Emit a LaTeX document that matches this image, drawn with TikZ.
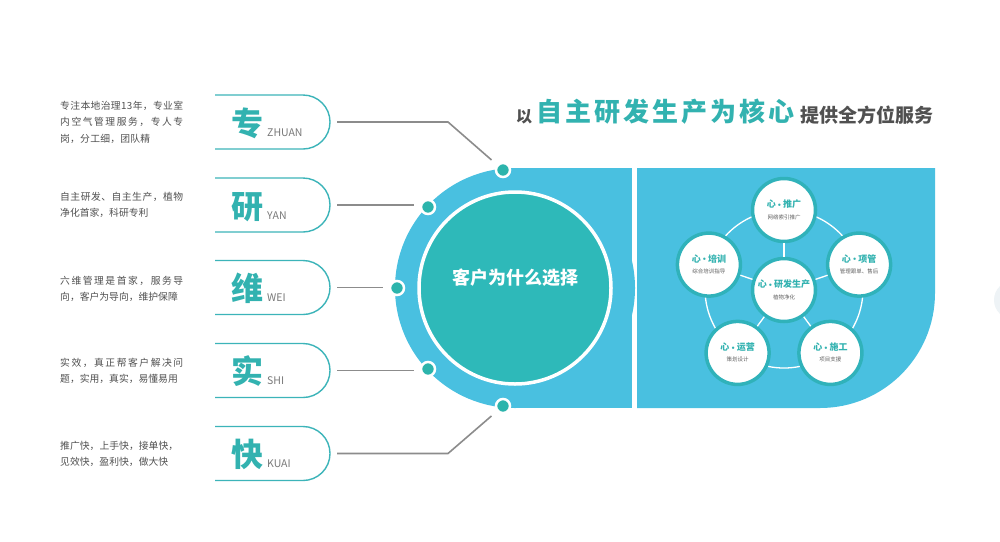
\documentclass[tikz,border=0pt]{standalone}
\usepackage{fontspec}
\setmainfont{Noto Sans CJK SC}
\definecolor{bluep}{RGB}{73,192,224}
\definecolor{tealc}{RGB}{46,185,185}
\definecolor{dotc}{RGB}{44,180,172}
\definecolor{tealtxt}{RGB}{50,178,176}
\definecolor{pillc}{RGB}{60,180,185}
\definecolor{linec}{RGB}{140,140,140}
\definecolor{graytxt}{RGB}{80,80,80}
\definecolor{graypy}{RGB}{120,120,120}
\definecolor{graysub}{RGB}{100,100,100}
\definecolor{ringc}{RGB}{48,178,186}
\definecolor{faint}{RGB}{238,243,246}
\ExplSyntaxOn
\NewDocumentCommand\spreadchars{mm}{\makebox[#1][s]{\tl_map_inline:nn {#2}{##1\hfil}\unskip}}
\ExplSyntaxOff
\newcommand{\middotsep}{\hspace{1.8pt}\raisebox{1.3pt}{$\scriptscriptstyle\bullet$}\hspace{1.8pt}}
\begin{document}
\begin{tikzpicture}[x=1pt,y=-1pt,
  lefttxt/.style={anchor=base west, inner sep=0pt, font=\fontsize{9.8}{12}\selectfont, text=graytxt},
  bigchar/.style={anchor=base west, inner sep=0pt, font=\fontsize{32}{34}\selectfont\bfseries, text=tealtxt},
  pinyin/.style={anchor=base west, inner sep=0pt, font=\fontsize{10.5}{12}\selectfont, text=graypy},
  pill/.style={draw=pillc, line width=1.4pt},
  conn/.style={draw=linec, line width=1.6pt},
  dot/.style={circle, inner sep=0pt, minimum size=14pt, fill=dotc, draw=white, line width=2.5pt},
  smallc/.style={circle, inner sep=0pt, minimum size=63pt, fill=white, draw=ringc, line width=3.5pt},
  ctitle/.style={anchor=base, inner sep=0pt, font=\fontsize{9}{11}\selectfont\bfseries, text=tealtxt},
  csub/.style={anchor=base, inner sep=0pt, font=\fontsize{5.5}{7}\selectfont, text=graysub},
  spoke/.style={draw=white, line width=1.3pt},
  titlegray/.style={anchor=base west, inner sep=0pt, text=graytxt}
]
\useasboundingbox (0,0) rectangle (1000,541);
\fill[white] (0,0) rectangle (1000,541);
\fill[faint] (1013,300) circle[radius=19];

% title
\node[titlegray, font=\fontsize{16}{18}\selectfont\bfseries] (t1) at (516,122) {以};
\node[anchor=base west, inner sep=0pt, font=\fontsize{26}{30}\selectfont\bfseries, text=tealtxt] (t2) at (536,121) {\spreadchars{258pt}{自主研发生产为核心}};
\node[titlegray, font=\fontsize{19}{21}\selectfont\bfseries] (t3) at (800,122.7) {\spreadchars{133pt}{提供全方位服务}};

% left blue shape
\fill[bluep] (515,288) circle[radius=120];
\fill[bluep] (515,168) rectangle (632,408);
% right blue panel
\fill[bluep] (637,168) -- (935,168) -- (935,293) arc[start angle=0,end angle=90,radius=115] -- (637,408) -- cycle;

% core circle
\node[circle, inner sep=0pt, minimum size=192pt, fill=tealc, draw=white, line width=3.5pt] (core) at (515,288) {};
\node[anchor=base, inner sep=0pt, font=\fontsize{18}{20}\selectfont\bfseries, text=white] (coret) at (515,284) {客户为什么选择};

% dots
\node[dot] (d1) at (503,170) {};
\node[dot] (d2) at (428,207) {};
\node[dot] (d3) at (397,288) {};
\node[dot] (d4) at (428,369) {};
\node[dot] (d5) at (503,406) {};

% pills
\foreach \i/\c/\ch/\py in {1/122/专/ZHUAN, 2/205/研/YAN, 3/287.5/维/WEI, 4/370.5/实/SHI, 5/453.5/快/KUAI}{
  \draw[pill] (215,\c-27) -- (303,\c-27) arc[start angle=-90,end angle=90,radius=27] -- (215,\c+27);
  \coordinate (pill\i) at (330,\c);
  \node[bigchar] (big\i) at (231,\c+13) {\ch};
  \node[pinyin] (py\i) at (267,\c+14) {\py};
}

% connectors
\coordinate (b1) at (448,122);
\coordinate (b5) at (448,453.5);
\draw[conn, shorten <=7pt, shorten >=7pt] (pill1) -- (b1) -- (d1);
\draw[conn, shorten <=7pt, shorten >=6pt] (pill2) -- (pill2 -| d2.west);
\draw[conn, shorten <=7pt, shorten >=6pt] (pill3) -- (pill3 -| d3.west);
\draw[conn, shorten <=7pt, shorten >=6pt] (pill4) -- (pill4 -| d4.west);
\draw[conn, shorten <=7pt, shorten >=7pt] (pill5) -- (b5) -- (d5);

% left texts
\node[lefttxt] (l11) at (60,109.2) {\spreadchars{123pt}{专注本地治理13年，专业室}};
\node[lefttxt] (l12) at (60,125.7) {\spreadchars{123pt}{内空气管理服务，专人专}};
\node[lefttxt] (l13) at (60,142.2) {\spreadchars{90pt}{岗，分工细，团队精}};
\node[lefttxt] (l21) at (60,200.7) {\spreadchars{123pt}{自主研发、自主生产，植物}};
\node[lefttxt] (l22) at (60,216.7) {\spreadchars{86pt}{净化首家，科研专利}};
\node[lefttxt] (l31) at (60,284.7) {\spreadchars{123pt}{六维管理是首家，服务导}};
\node[lefttxt] (l32) at (60,300.7) {\spreadchars{117pt}{向，客户为导向，维护保障}};
\node[lefttxt] (l41) at (60,366.7) {\spreadchars{123pt}{实效，真正帮客户解决问}};
\node[lefttxt] (l42) at (60,382.2) {\spreadchars{116pt}{题，实用，真实，易懂易用}};
\node[lefttxt] (l51) at (60,449.7) {\spreadchars{118pt}{推广快，上手快，接单快，}};
\node[lefttxt] (l52) at (60,465.7) {\spreadchars{108pt}{见效快，盈利快，做大快}};

% right panel network
\draw[spoke] (784,289) circle[radius=79];
\foreach \n/\x/\y/\ti/\su in {n0/784/290/研发生产/植物净化, n1/784/210/推广/网络索引推广, n2/859.1/264.6/项管/管理跟单、售后, n3/830.4/352.9/施工/项目支援, n4/737.6/352.9/运营/策划设计, n5/708.9/264.6/培训/综合培训指导}{
  \node[smallc] (\n) at (\x,\y) {};
  \node[ctitle] (\n-t) at (\x,\y-2.4) {心\middotsep\ti};
  \node[csub] (\n-s) at (\x,\y+9) {\su};
}
\foreach \n in {n1,n2,n3,n4,n5}{
  \draw[spoke] (n0) -- (\n);
}
\end{tikzpicture}
\end{document}
